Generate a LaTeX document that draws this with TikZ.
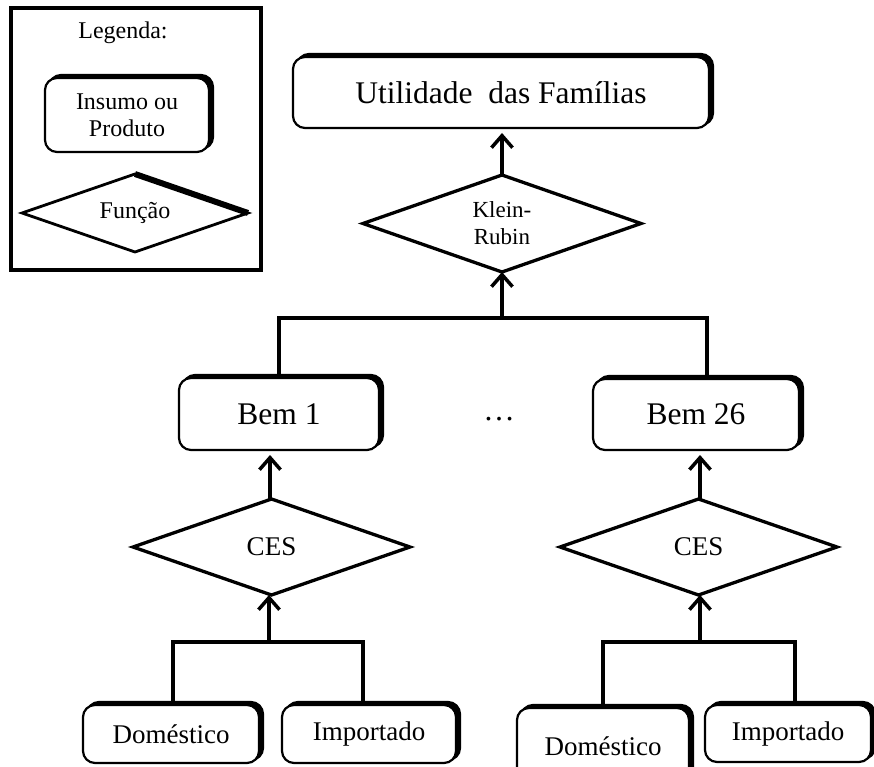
\documentclass[tikz,border=0pt]{standalone}
\usepackage{fontspec}
\setmainfont{Liberation Serif}
\usetikzlibrary{shapes.geometric,arrows.meta,shadows}

\begin{document}
\begin{tikzpicture}[x=1pt,y=-1pt,
  prod/.style={draw, fill=white, line width=2.2pt, rounded corners=12pt, outer sep=0pt, inner sep=0pt, align=center,
    general shadow={fill=black, draw=black, line width=2.2pt, shadow xshift=4pt, shadow yshift=3pt}},
  func/.style={draw, diamond, line width=3.3pt, inner sep=0pt, outer sep=0pt, align=center},
  conn/.style={line width=3.5pt},
  arrbox/.style={conn, -{Straight Barb[length=12pt,width=21pt]}, shorten >=5pt},
  arrfun/.style={conn, -{Straight Barb[length=12pt,width=21pt]}},
  big/.style={font=\fontsize{31.5}{34}\selectfont},
  mid/.style={font=\fontsize{27}{30}\selectfont},
  small/.style={font=\fontsize{23}{27}\selectfont},
  leg/.style={font=\fontsize{24}{27}\selectfont},
]
\useasboundingbox (0,0) rectangle (874,767);
\fill[white] (0,0) rectangle (874,767);

% legend
\node[draw, line width=3.5pt, minimum width=250pt, minimum height=262pt, outer sep=0pt] (legframe) at (136,139) {};
\node[leg] (legtitle) at (123,33) {Legenda:};
\node[prod, leg, minimum width=164pt, minimum height=74pt] (legbox) at (127,115) {Insumo ou\\Produto};
\node[func, leg, line width=2.8pt, minimum width=226pt, minimum height=78pt, shape aspect=2.9] (legfun) at (135,213) {Função};
\draw[line width=6pt] (legfun.north) -- (legfun.east);

% upper level
\node[prod, big, minimum width=416pt, minimum height=71pt] (util) at (501,92.5) {Utilidade\ \ das Famílias};
\node[func, small, minimum width=278pt, minimum height=97pt, shape aspect=2.87] (kr) at (502,223.5) {Klein-\\Rubin};

% goods
\node[prod, big, minimum width=200pt, minimum height=72pt] (bem1) at (279,414) {Bem 1};
\node[prod, big, minimum width=206pt, minimum height=71pt] (bem26) at (696,414.5) {Bem 26};
\node[big, anchor=base] (dots) at (499,420.5) {…};

% CES aggregators
\node[func, mid, minimum width=277pt, minimum height=96pt, shape aspect=2.88] (cesL) at (271.5,547) {CES};
\node[func, mid, minimum width=277pt, minimum height=96pt, shape aspect=2.88] (cesR) at (698.5,547) {CES};

% sources
\node[prod, mid, minimum width=176pt, minimum height=58pt] (domL) at (171,734) {Doméstico};
\node[prod, mid, minimum width=174pt, minimum height=58pt] (impL) at (369,734) {Importado};
\node[prod, mid, minimum width=172pt, minimum height=77pt] (domR) at (603,746.5) {Doméstico};
\node[prod, mid, minimum width=166pt, minimum height=57pt] (impR) at (788,733.5) {Importado};

% connectors
\coordinate (jtop) at (502,318);
\coordinate (jl) at (269,642);
\coordinate (jr) at (700,642);

\draw[arrbox] (kr.north) -- (kr.north |- util.south);
\draw[conn] (bem1.north) |- (jtop) -| ([xshift=11pt]bem26.north);
\draw[arrfun] (jtop) -- (jtop |- kr.south);

\draw[arrbox] ([xshift=-1.5pt]cesL.north) -- ([xshift=-1.5pt]cesL.north |- bem1.south);
\draw[arrbox] ([xshift=1.5pt]cesR.north) -- ([xshift=1.5pt]cesR.north |- bem26.south);

\draw[conn] ([xshift=2pt]domL.north) |- (jl) -| ([xshift=-6pt]impL.north);
\draw[arrfun] (jl) -- (jl |- cesL.south);
\draw[conn] (domR.north) |- (jr) -| ([xshift=7pt]impR.north);
\draw[arrfun] (jr) -- (jr |- cesR.south);
\end{tikzpicture}
\end{document}
